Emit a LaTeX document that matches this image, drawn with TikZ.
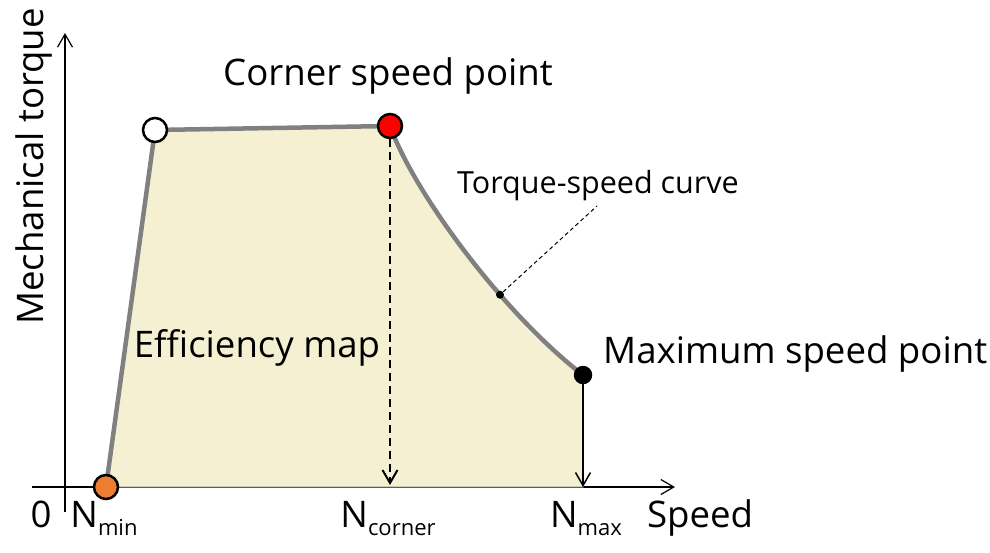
\documentclass[tikz,border=0pt]{standalone}
\usepackage{fontspec}
\setmainfont{Open Sans}
\usetikzlibrary{arrows.meta}
\definecolor{mapfill}{HTML}{F5F0D2}
\definecolor{edgegray}{HTML}{808080}
\definecolor{minorange}{HTML}{ED7D31}
\newcommand{\Nlab}[1]{N\raisebox{-8pt}{\fontsize{22}{26}\selectfont #1}}

\begin{document}
\begin{tikzpicture}[x=1pt,y=-1pt,
  lab/.style={font=\fontsize{36.6}{43}\selectfont, inner sep=0pt},
  ptcircle/.style={circle, draw=black, line width=2.5pt, minimum size=24pt, inner sep=0pt},
  axisarrow/.style={-{Straight Barb[length=13pt,width=15pt]}}]
\useasboundingbox (0,0) rectangle (990,552);
%axes
\coordinate (xs) at (32,487); \coordinate (xe) at (675,487);
\coordinate (ys) at (65,512); \coordinate (ye) at (65,33);
\draw[line width=1.2pt, axisarrow] (xs) -- (xe);
\draw[line width=1.2pt, axisarrow] (ys) -- (ye);
%corners of the map
\coordinate (pmin) at (106,487);
\coordinate (pwhite) at (155,130);
\coordinate (pcorner) at (390,126);
\coordinate (pmax) at (583,375);
\coordinate (bmax) at (583,487);
\coordinate (bcorner) at (390,485);
\fill[mapfill, draw=edgegray, line width=1pt] (pmin) -- (pwhite) -- (pcorner) .. controls (415,195) and (505,315) .. (pmax) -- (bmax) -- cycle;
\draw[edgegray, line width=4.5pt] (pmin) -- (pwhite) -- (pcorner) .. controls (415,195) and (505,315) .. (pmax);
\path (pcorner) .. controls (415,195) and (505,315) .. (pmax) node[pos=0.65, circle, fill=black, minimum size=8pt, inner sep=0pt] (cdot) {};
%points
\node[ptcircle, fill=minorange] (omin) at (pmin) {};
\node[ptcircle, fill=white] (owhite) at (pwhite) {};
\node[ptcircle, fill=red] (ocorner) at (pcorner) {};
\node[circle, fill=black, minimum size=18.5pt, inner sep=0pt] (omax) at (pmax) {};
\draw[line width=2pt, dash pattern=on 8pt off 5pt, axisarrow] (ocorner) -- (bcorner);
\draw[line width=1.5pt, axisarrow] (omax) -- (bmax);
%labels
\node[lab, anchor=base] (cornerlab) at (388,85) {Corner speed point};
\node[lab, anchor=base] (efflab) at (257,357) {Efficiency map};
\node[lab, anchor=base west] (maxlab) at (603,363) {Maximum speed point};
\node[font=\fontsize{30.5}{36}\selectfont, inner sep=0pt, anchor=base west] (curvelab) at (457,193) {Torque-speed curve};
\coordinate (lead) at (597,206);
\draw[line width=1pt, dash pattern=on 4pt off 3pt] (cdot) -- (lead);
\node[lab, rotate=90, anchor=base west] (ylab) at (43,325) {Mechanical torque};
\node[lab, anchor=base] (zero) at (41,527) {0};
\node[lab, anchor=base] (nmin) at (104,527) {\Nlab{min}};
\node[lab, anchor=base] (ncorner) at (388,527) {\Nlab{corner}};
\node[lab, anchor=base] (nmax) at (586,527) {\Nlab{max}};
\node[lab, anchor=base] (speed) at (700,527) {Speed};
\end{tikzpicture}
\end{document}
